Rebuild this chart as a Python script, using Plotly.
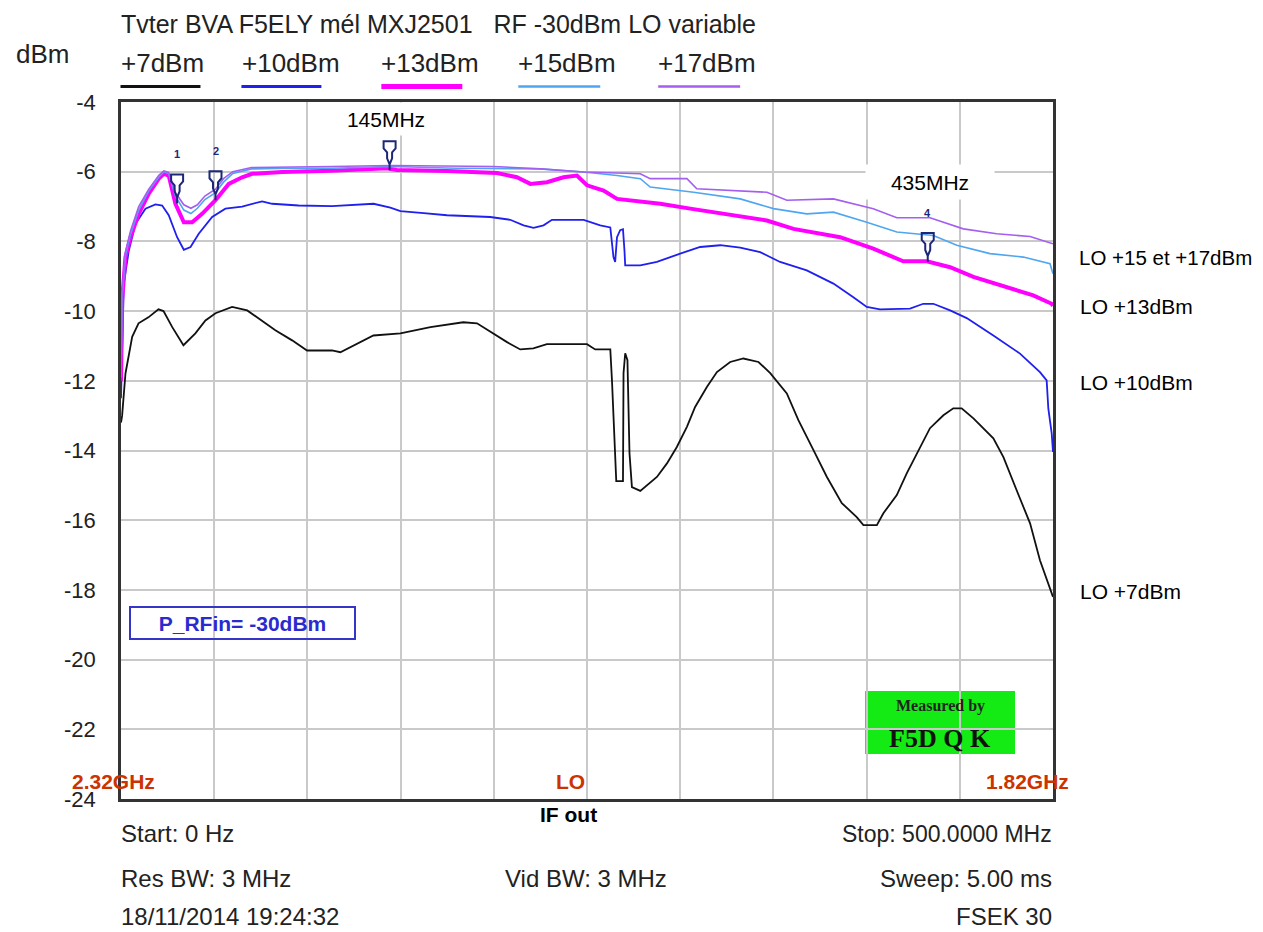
import plotly.graph_objects as go

# ---------------- data (MHz, dBm) ----------------
f_lo7 = [0, 0.6, 2.4, 6.0, 9.4, 14.7, 20.1, 22.8, 27.5, 33.5, 39.9, 45.3, 50.7, 59.6, 67.7, 73.7,
         82.8, 91.8, 99.8, 113.2, 117.7, 135.4, 149.9, 166.0, 183.6, 191.0, 199.7, 207.1, 214.2,
         221.2, 228.5, 250.0, 254.4, 262.5, 263.4, 265.1, 265.7, 269.3, 269.6, 270.5, 271.7, 272.8,
         274.1, 278.6, 287.5, 292.9, 298.2, 303.6, 308.0, 314.3, 319.7, 326.8, 333.9, 342.0, 348.3,
         357.2, 363.4, 371.5, 378.7, 386.7, 394.7, 398.3, 405.5, 409.0, 416.2, 421.6, 428.7, 434.0,
         441.2, 446.5, 451.0, 457.3, 468.0, 473.4, 480.5, 487.7, 493.0, 499.3, 500]
v_lo7 = [-13.2, -13.0, -11.79, -10.74, -10.35, -10.18, -9.95, -10.0, -10.46, -10.98, -10.64, -10.27,
         -10.06, -9.88, -9.98, -10.21, -10.55, -10.84, -11.13, -11.13, -11.18, -10.70, -10.64, -10.46,
         -10.32, -10.35, -10.64, -10.89, -11.10, -11.07, -10.95, -10.95, -11.10, -11.10, -11.99, -13.85,
         -14.88, -14.88, -11.78, -11.21, -11.41, -14.08, -15.05, -15.16, -14.76, -14.37, -13.90, -13.32,
         -12.75, -12.18, -11.75, -11.46, -11.36, -11.46, -11.78, -12.36, -13.13, -13.99, -14.76, -15.51,
         -15.91, -16.14, -16.14, -15.80, -15.28, -14.65, -13.90, -13.36, -12.99, -12.79, -12.79, -13.08,
         -13.65, -14.19, -15.14, -16.09, -17.15, -18.15, -18.2]

f_lo10 = [0, 1.5, 4.2, 7.8, 13.1, 18.5, 22.1, 25.6, 30.1, 33.7, 37.3, 41.7, 48.9, 56.0, 65.0, 75.7,
          81.1, 95.3, 113.2, 135.5, 144.5, 149.9, 162.4, 174.9, 198.1, 208.8, 216.0, 221.3, 226.7,
          231.2, 248.2, 257.1, 262.5, 264.2, 265.1, 266.1, 267.8, 269.3, 270.1, 270.5, 278.6, 287.5,
          300.0, 310.7, 321.5, 332.2, 342.9, 353.6, 367.9, 382.2, 392.9, 400.1, 407.2, 423.3, 430.4,
          435.8, 444.8, 453.7, 468.0, 482.3, 493.0, 496.6, 497.5, 499.3, 500]
v_lo10 = [-12.5, -9.21, -8.26, -7.49, -7.06, -6.94, -6.97, -7.25, -7.88, -8.24, -8.16, -7.78, -7.30,
          -7.06, -7.00, -6.85, -6.92, -6.97, -6.99, -6.92, -7.03, -7.13, -7.19, -7.25, -7.30, -7.38,
          -7.54, -7.61, -7.54, -7.38, -7.38, -7.54, -7.60, -8.45, -8.59, -7.88, -7.68, -7.65, -8.26,
          -8.69, -8.69, -8.59, -8.35, -8.16, -8.11, -8.18, -8.31, -8.59, -8.83, -9.21, -9.60, -9.88,
          -9.95, -9.93, -9.79, -9.79, -9.98, -10.20, -10.70, -11.22, -11.75, -11.99, -12.80, -13.51, -14.04]

f_lo13 = [0, 0.6, 2.4, 5.1, 9.5, 14.9, 20.3, 23.0, 25.6, 29.2, 33.7, 38.2, 43.5, 50.7, 57.8, 65.0,
          70.3, 86.4, 113.2, 142.7, 148.0, 175.0, 201.7, 212.4, 219.6, 228.5, 237.4, 244.6, 250.0,
          258.9, 266.1, 273.2, 289.3, 305.4, 325.0, 346.5, 360.8, 385.8, 403.6, 419.7, 432.3, 444.8,
          457.3, 475.2, 489.4, 499.3, 500]
v_lo13 = [-12.0, -9.69, -8.45, -7.88, -7.21, -6.63, -6.20, -6.06, -6.11, -6.92, -7.45, -7.45, -7.21,
          -6.82, -6.35, -6.16, -6.06, -6.01, -5.97, -5.90, -5.95, -5.98, -6.04, -6.16, -6.35, -6.30,
          -6.16, -6.11, -6.39, -6.54, -6.78, -6.82, -6.92, -7.06, -7.21, -7.40, -7.64, -7.88, -8.21,
          -8.57, -8.57, -8.74, -9.02, -9.31, -9.55, -9.79, -9.85]

f_lo15 = [0, 0.6, 2.4, 5.1, 9.5, 14.9, 20.3, 23.0, 25.6, 29.2, 33.7, 37.5, 41.0, 45.0, 50.7, 55.0,
          60.0, 65.0, 70.0, 90.0, 113.0, 145.0, 180.0, 225.0, 248.2, 266.1, 278.6, 283.9, 307.2,
          332.2, 350.0, 367.9, 382.2, 400.1, 416.2, 435.8, 448.4, 466.2, 484.1, 498.4, 500]
v_lo15 = [-11.9, -9.6, -8.4, -7.8, -7.1, -6.55, -6.15, -6.0, -6.05, -6.7, -7.1, -7.2, -7.05, -6.8,
          -6.6, -6.3, -6.05, -5.98, -5.92, -5.90, -5.90, -5.85, -5.90, -5.92, -6.01, -6.11, -6.20,
          -6.44, -6.59, -6.78, -7.06, -7.21, -7.16, -7.45, -7.73, -7.83, -8.11, -8.35, -8.45, -8.64, -8.93]

f_lo17 = [0, 0.6, 2.4, 5.1, 9.5, 14.9, 20.3, 23.0, 25.6, 29.2, 33.7, 37.5, 41.0, 45.0, 50.7, 55.0,
          60.0, 65.0, 70.0, 113.0, 145.0, 200.0, 225.0, 248.2, 278.6, 283.9, 303.6, 308.9, 346.5,
          357.2, 382.2, 403.6, 416.2, 434.0, 451.9, 469.8, 487.7, 500]
v_lo17 = [-11.9, -9.5, -8.3, -7.7, -7.0, -6.5, -6.1, -5.98, -6.02, -6.6, -6.95, -7.05, -6.95, -6.7,
          -6.5, -6.2, -6.0, -5.93, -5.88, -5.85, -5.82, -5.85, -5.92, -6.01, -6.06, -6.20, -6.20,
          -6.49, -6.59, -6.82, -6.78, -7.06, -7.32, -7.32, -7.64, -7.78, -7.86, -8.07]

marker_freq = [30.1, 50.7, 144.1, 432.8]
marker_level = [-6.91, -6.82, -5.96, -8.59]
marker_label = ["1", "2", "", "4"]

y_ticks = [-4, -6, -8, -10, -12, -14, -16, -18, -20, -22, -24]
y_tick_text = ["-4", "-6", "-8", "-10", "-12", "-14", "-16", "-18", "-20", "-22", "-24"]

legend_names = ["+7dBm", "+10dBm", "+13dBm", "+15dBm", "+17dBm"]
colors = ["#111111", "#1f1fee", "#ff00ff", "#4fa6f0", "#a45ef0"]
widths = [1.8, 1.8, 4.0, 1.6, 1.6]

# ---------------- figure ----------------
W, H = 1263, 932
PAGE = 8                      # default body margin of the html page
L, R, T, B = 120.5, 1053, 101.5, 799   # plot area, in page pixels


def px(x):
    return (x - L) / (R - L)


def py(y):
    return (B - y) / (B - T)


fig = go.Figure()
series = [(f_lo7, v_lo7, 0), (f_lo10, v_lo10, 1), (f_lo13, v_lo13, 2), (f_lo15, v_lo15, 3), (f_lo17, v_lo17, 4)]
for fx, vy, i in series:
    fig.add_trace(go.Scatter(x=fx, y=vy, mode="lines", name=legend_names[i],
                             line=dict(color=colors[i], width=widths[i]), hoverinfo="x+y"))

navy = "#1c2778"
# marker glyph (pixel offsets from the point on the trace, y upwards)
marker_path = ("M -6,29 L 6,29 L 6,22 L 2.5,18 L 2.5,12 L 0,6 L -2.5,12 L -2.5,18 L -6,22 Z "
               "M 0,6 L 0,0")

font_main = "Liberation Sans, Arial, sans-serif"
txt = "#222222"
ann = []


def A(text, x, y, size=20, xanchor="left", color=txt, bold=False, family=font_main, **kw):
    t = f"<b>{text}</b>" if bold else text
    d = dict(text=t, x=px(x), y=py(y), xref="paper", yref="paper", xanchor=xanchor, yanchor="middle",
             showarrow=False, font=dict(size=size, color=color, family=family))
    d.update(kw)
    ann.append(d)


A("Tvter BVA F5ELY mél MXJ2501\u00a0\u00a0\u00a0RF -30dBm LO variable", 118, 23, size=25)
A("dBm", 13, 53, size=26)
leg_x = [118, 240, 379, 516, 656]
for name, x0 in zip(legend_names, leg_x):
    A(name, x0, 62, size=26)

A("2.32GHz", 113, 781, size=21, xanchor="center", color="#cc3300", bold=True)
A("LO", 570, 781, size=21, xanchor="center", color="#cc3300", bold=True)
A("1.82GHz", 1027, 781, size=21, xanchor="center", color="#cc3300", bold=True)
A("IF out", 568, 815, size=21, xanchor="center", color="#000000", bold=True)

A("Start: 0 Hz", 118, 834, size=24)
A("Stop: 500.0000 MHz", 1054, 834, size=23, xanchor="right")
A("Res BW: 3 MHz", 118, 879, size=24)
A("Vid BW: 3 MHz", 586, 879, size=24, xanchor="center")
A("Sweep: 5.00 ms", 1054, 879, size=24, xanchor="right")
A("18/11/2014 19:24:32", 118, 917, size=24)
A("FSEK 30", 1054, 917, size=24, xanchor="right")

A("LO +15 et +17dBm", 1077, 257, size=20.5, color="#000000")
A("LO +13dBm", 1078, 306, size=21, color="#000000")
A("LO +10dBm", 1078, 382, size=21, color="#000000")
A("LO +7dBm", 1078, 591, size=21, color="#000000")

A("145MHz", 386, 119, size=21, xanchor="center", color="#000000", bgcolor="white", width=124, height=30)
A("435MHz", 930, 182, size=21, xanchor="center", color="#000000", bgcolor="white", width=126, height=32)

A("P_RFin= -30dBm", 242, 623, size=21, xanchor="center", color="#2a2ad0", bold=True,
  bordercolor="#3535c8", borderwidth=2, width=221, height=28)

A("Measured by", 940, 706, size=16, xanchor="center", color="#222222", bold=True,
  family="Liberation Serif, DejaVu Serif, serif")
A("F5D\u00a0Q\u00a0K", 940, 738, size=26, xanchor="center", color="#111111", bold=True,
  family="Liberation Serif, DejaVu Serif, serif")

for lab, fx, lv in zip(marker_label, marker_freq, marker_level):
    if lab:
        ann.append(dict(text=f"<b>{lab}</b>", x=fx, y=lv, xref="x", yref="y", showarrow=False,
                        yshift=49, font=dict(size=11, color=navy, family=font_main)))

shapes = []
leg_lines = [(120, 200), (241, 321), (381, 462), (518, 600), (658, 740)]
for (x0, x1), c, w in zip(leg_lines, colors, [3, 3, 5, 2.5, 2.5]):
    shapes.append(dict(type="line", xref="paper", yref="paper", x0=px(x0), x1=px(x1), y0=py(86), y1=py(86),
                       line=dict(color=c, width=w)))
shapes.append(dict(type="rect", xref="paper", yref="paper", x0=px(865), x1=px(1015), y0=py(754), y1=py(691),
                   fillcolor="#14ea14", line=dict(width=0), layer="below"))
for fx, lv in zip(marker_freq, marker_level):
    shapes.append(dict(type="path", xref="x", yref="y", xsizemode="pixel", ysizemode="pixel",
                       xanchor=fx, yanchor=lv, path=marker_path, line=dict(color=navy, width=2),
                       fillcolor="rgba(0,0,0,0)", layer="above"))

fw, fh = W - PAGE, H - PAGE
fig.update_layout(
    width=fw, height=fh,
    margin=dict(l=L - PAGE, r=fw - (R - PAGE), t=T - PAGE, b=fh - (B - PAGE)),
    paper_bgcolor="white", plot_bgcolor="white",
    showlegend=False,
    annotations=ann, shapes=shapes,
    xaxis=dict(range=[0, 500], dtick=50, tick0=0, showgrid=True, gridcolor="#c9c9c9", gridwidth=2,
               showticklabels=False, ticks="", zeroline=False, showline=True, linecolor="#333333",
               linewidth=2.5, mirror=True),
    yaxis=dict(range=[-24, -4], tickvals=y_ticks, ticktext=y_tick_text, showgrid=True, gridcolor="#c9c9c9",
               gridwidth=2, ticks="", zeroline=False, showline=True, linecolor="#333333", linewidth=2.5,
               mirror=True, ticklabelstandoff=18, tickfont=dict(size=22, color=txt, family=font_main)),
)

fig.write_html("out.html")
